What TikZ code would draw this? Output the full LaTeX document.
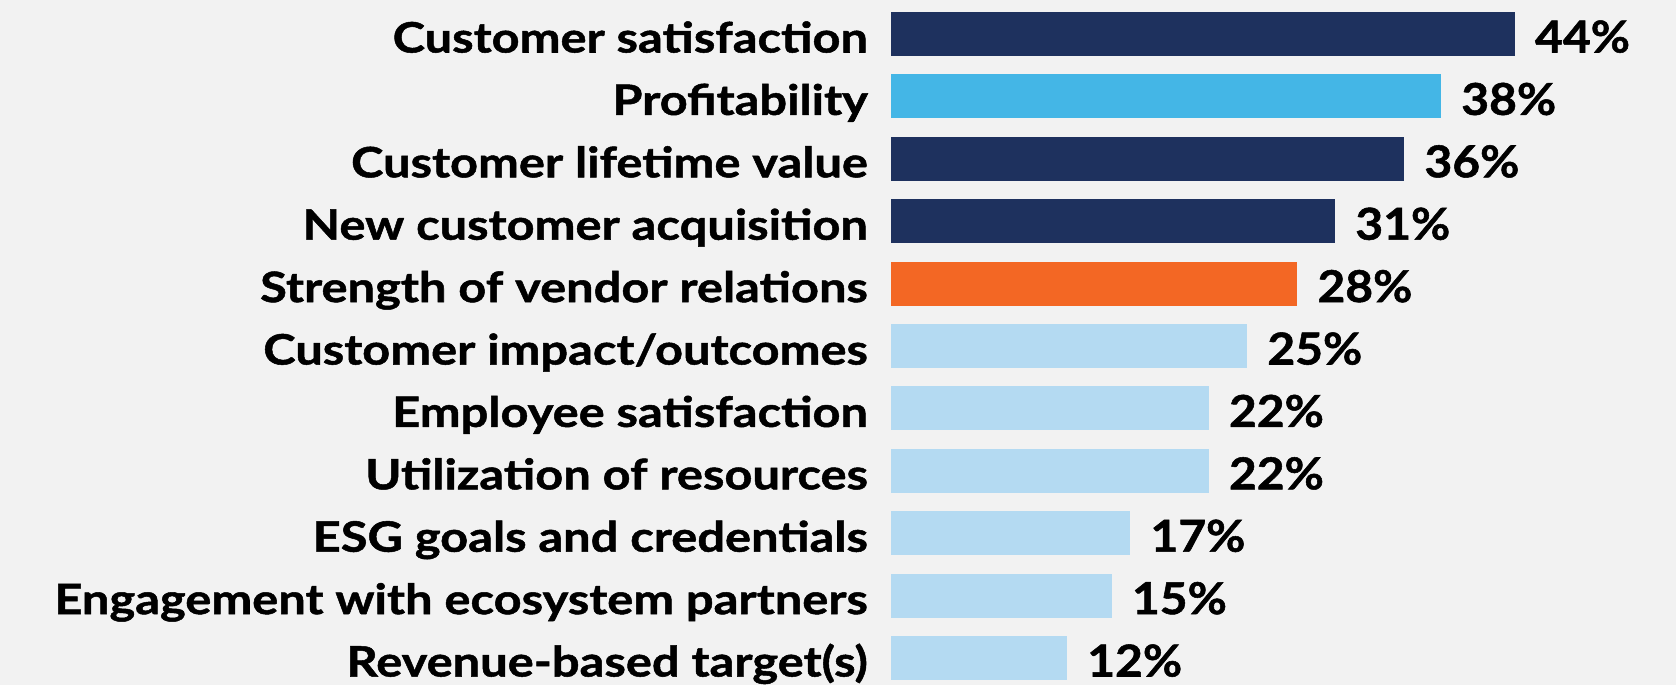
\documentclass[tikz,border=0pt]{standalone}
\usepackage{fontspec}
\setmainfont{Lato}
\newfontfamily\labfont[FakeStretch=1.165,FakeBold=1.2]{Lato}
\newfontfamily\pctfont[FakeStretch=1.09,FakeBold=1.2]{Lato}
\definecolor{bg}{RGB}{242,242,242}
\definecolor{navy}{RGB}{30,49,94}
\definecolor{sky}{RGB}{68,182,230}
\definecolor{orng}{RGB}{243,103,36}
\definecolor{pale}{RGB}{180,218,242}
\newcommand\chartrow[5]{%
  \node[bar, fill=#5, minimum width=#4*0.75pt] (b#1) at (891, {34+62.4*(#1-1)}) {};
  \node[lab] (l#1) at (868, {34+62.4*(#1-1)+18.5}) {#2};
  \node[pct] (p#1) at ([xshift=15pt, yshift=-13.875pt]b#1.east) {#3\%};
}
\begin{document}
\begin{tikzpicture}[x=0.75pt,y=-0.75pt,
  bar/.style={anchor=west, inner sep=0pt, outer sep=0pt, minimum height=33pt, draw=none},
  lab/.style={anchor=base east, inner sep=0pt, font=\labfont\fontsize{31.4pt}{36pt}\selectfont\bfseries},
  pct/.style={anchor=base west, inner sep=0pt, font=\pctfont\fontsize{33pt}{38pt}\selectfont\bfseries}]
\fill[bg] (0,0) rectangle (1676,685);
\useasboundingbox (0,0) rectangle (1676,685);
\chartrow{1}{Customer satisfaction}{44}{623.8}{navy}
\chartrow{2}{Profitability}{38}{550}{sky}
\chartrow{3}{Customer lifetime value}{36}{513.2}{navy}
\chartrow{4}{New customer acquisition}{31}{444.1}{navy}
\chartrow{5}{Strength of vendor relations}{28}{406.2}{orng}
\chartrow{6}{Customer impact/outcomes}{25}{356.1}{pale}
\chartrow{7}{Employee satisfaction}{22}{317.7}{pale}
\chartrow{8}{Utilization of resources}{22}{317.7}{pale}
\chartrow{9}{ESG goals and credentials}{17}{239.2}{pale}
\chartrow{10}{Engagement with ecosystem partners}{15}{220.7}{pale}
\chartrow{11}{Revenue-based target(s)}{12}{176}{pale}
\end{tikzpicture}
\end{document}
